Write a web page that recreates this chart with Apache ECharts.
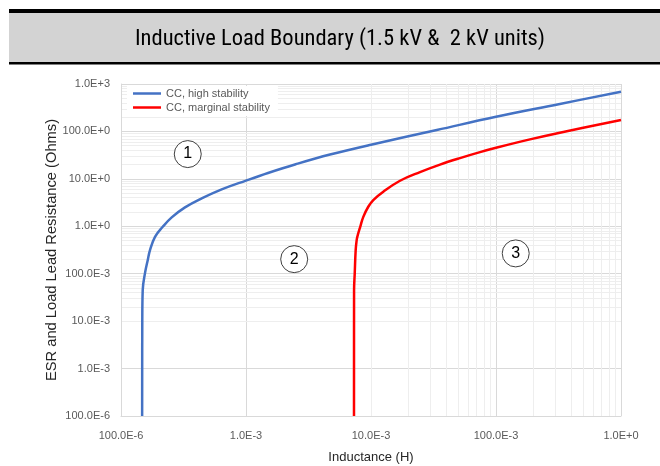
<!DOCTYPE html>
<html><head><meta charset="utf-8">
<script src="https://cdn.jsdelivr.net/npm/echarts@6/dist/echarts.min.js"></script>
<style>html,body{margin:0;padding:0;background:#fff}#c{width:660px;height:466px}</style>
</head><body><div id="c"></div>
<script>
const titleText = 'Inductive Load Boundary (1.5 kV &  2 kV units)';
const xAxisName = 'Inductance (H)';
const yAxisName = 'ESR and Load Lead Resistance (Ohms)';
const seriesNames = ['CC, high stability', 'CC, marginal stability'];

// CC, high stability: [inductance H, resistance Ohms]
const highL = [1.476e-4, 1.480e-4, 1.492e-4, 1.556e-4, 1.636e-4, 1.706e-4, 1.871e-4, 2.157e-4, 2.545e-4, 3.25e-4, 4.42e-4, 6.39e-4, 1e-3, 1.5e-3, 2.5e-3, 4.7e-3, 1e-2, 0.0336, 0.1, 0.317, 1];
const highR = [1e-4, 0.01, 0.045, 0.103, 0.193, 0.314, 0.60, 0.975, 1.54, 2.50, 3.87, 6.0, 9.2, 13.3, 20.3, 32.5, 52.5, 107, 204, 375, 688];

// CC, marginal stability
const margL = [7.31e-3, 7.32e-3, 7.41e-3, 7.54e-3, 7.68e-3, 7.77e-3, 8.2e-3, 8.68e-3, 9.51e-3, 0.01043, 0.01254, 0.01706, 0.02466, 0.03565, 0.0515, 0.0745, 0.1, 0.187, 0.3454, 1];
const margR = [1e-4, 0.045, 0.101, 0.314, 0.51, 0.60, 0.975, 1.58, 2.58, 3.57, 5.34, 9.12, 13.9, 20.0, 27.4, 36.6, 45.2, 67.9, 97.5, 175];

const xTickLabels = ['100.0E-6', '1.0E-3', '10.0E-3', '100.0E-3', '1.0E+0'];
const yTickLabels = ['100.0E-6', '1.0E-3', '10.0E-3', '100.0E-3', '1.0E+0', '10.0E+0', '100.0E+0', '1.0E+3'];

const regionLabels = ['1', '2', '3'];
const regionL = [3.42e-4, 2.43e-3, 0.1438];
const regionR = [33.3, 0.203, 0.268];

const minorMultipliers = [2, 3, 4, 5, 6, 7, 8, 9];
const xDecades = [-4, -3, -2, -1];
const yDecades = [-4, -3, -2, -1, 0, 1, 2];

const zip = (a, b) => a.map((v, i) => [v, b[i]]);
const minorX = [], minorY = [];
xDecades.forEach(d => minorMultipliers.forEach(m => minorX.push({ xAxis: m * Math.pow(10, d) })));
yDecades.forEach(d => minorMultipliers.forEach(m => minorY.push({ yAxis: m * Math.pow(10, d) })));

const FONT = '"Liberation Sans", Arial, sans-serif';
const chart = echarts.init(document.getElementById('c'));
chart.setOption({
  animation: false,
  backgroundColor: '#fff',
  graphic: [
    { type: 'rect', shape: { x: 9, y: 9, width: 651, height: 55 }, style: { fill: '#d3d3d3' }, silent: true },
    { type: 'rect', shape: { x: 9, y: 9, width: 651, height: 4 }, style: { fill: '#000' }, silent: true },
    { type: 'rect', shape: { x: 9, y: 62, width: 651, height: 2.5 }, style: { fill: '#000' }, silent: true },
    { type: 'text', x: 340, y: 39, silent: true,
      style: { text: titleText, fill: '#000', font: '22.5px "Liberation Sans Narrow", "Roboto Condensed", "DejaVu Sans Condensed", sans-serif', align: 'center', verticalAlign: 'middle' } }
  ],
  grid: { left: 121, right: 39, top: 84, bottom: 50, containLabel: false, outerBoundsMode: 'none' },
  legend: {
    data: seriesNames, orient: 'vertical', left: 127, top: 86, z: 10,
    icon: 'rect', itemWidth: 28, itemHeight: 2.5, itemGap: 3, padding: [2, 8, 3, 6],
    backgroundColor: '#fff',
    textStyle: { fontSize: 11, color: '#595959', fontFamily: FONT }
  },
  xAxis: {
    type: 'log', logBase: 10, min: 1e-4, max: 1, splitNumber: 4,
    name: xAxisName, nameLocation: 'middle', nameGap: 35, nameMoveOverlap: false,
    nameTextStyle: { fontSize: 13, color: '#262626', fontFamily: FONT },
    axisLine: { show: true, lineStyle: { color: '#d9d9d9' } },
    axisTick: { show: false },
    axisLabel: { fontSize: 11, color: '#595959', fontFamily: FONT, margin: 14,
      formatter: v => xTickLabels[Math.round(Math.log10(v)) + 4] },
    splitLine: { show: true, lineStyle: { color: '#d9d9d9', width: 1 } }
  },
  yAxis: {
    type: 'log', logBase: 10, min: 1e-4, max: 1000, splitNumber: 7,
    name: yAxisName, nameLocation: 'middle', nameGap: 62, nameRotate: 90, nameMoveOverlap: false,
    nameTextStyle: { fontSize: 14.7, color: '#262626', fontFamily: FONT },
    axisLine: { show: true, lineStyle: { color: '#d9d9d9' } },
    axisTick: { show: false },
    axisLabel: { fontSize: 11, color: '#595959', fontFamily: FONT, margin: 11,
      formatter: v => yTickLabels[Math.round(Math.log10(v)) + 4] },
    splitLine: { show: true, lineStyle: { color: '#d9d9d9', width: 1 } }
  },
  series: [
    { name: '_minorGrid', type: 'line', data: [], silent: true, z: 0,
      markLine: { silent: true, z: 0, symbol: ['none', 'none'], label: { show: false },
        lineStyle: { color: '#eeeeee', width: 1, type: 'solid' },
        emphasis: { disabled: true },
        data: minorX.concat(minorY) } },
    { name: seriesNames[0], type: 'line', data: zip(highL, highR), showSymbol: false, symbol: 'none',
      smooth: 0.4, z: 3,
      lineStyle: { color: '#4472c4', width: 2.5 }, itemStyle: { color: '#4472c4' } },
    { name: seriesNames[1], type: 'line', data: zip(margL, margR), showSymbol: false, symbol: 'none',
      smooth: 0.4, z: 3,
      lineStyle: { color: '#ff0000', width: 2.5 }, itemStyle: { color: '#ff0000' } },
    { name: '_regions', type: 'scatter', z: 4, silent: true,
      data: regionL.map((l, i) => ({ value: [l, regionR[i]], name: regionLabels[i] })),
      symbol: 'circle', symbolSize: 27,
      itemStyle: { color: '#ffffff', borderColor: '#404040', borderWidth: 1, opacity: 1 },
      label: { show: true, position: 'inside', formatter: p => p.name, fontSize: 16, color: '#000', fontFamily: FONT } }
  ]
});
</script>
</body></html>
